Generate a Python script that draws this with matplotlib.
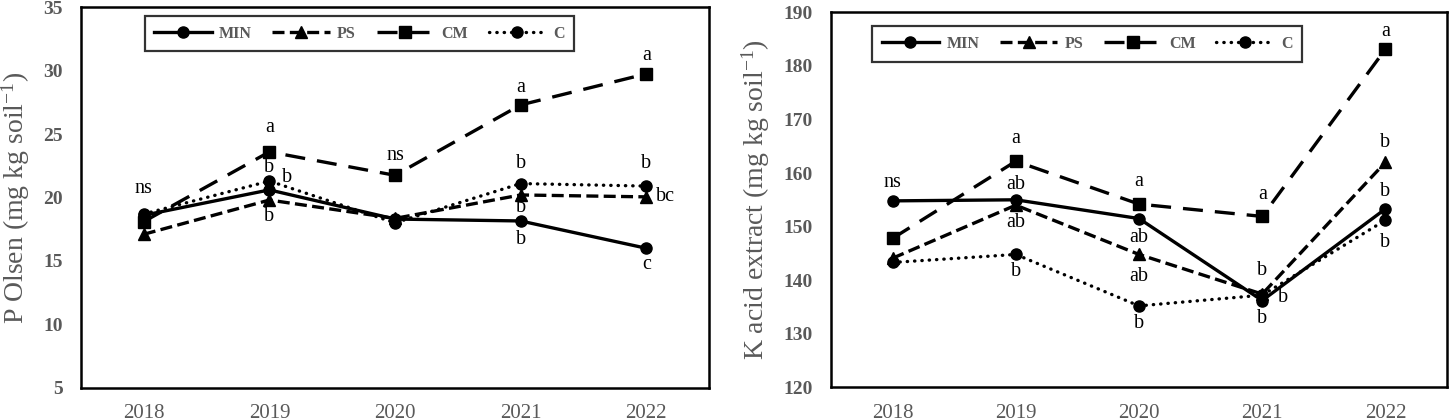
import matplotlib
matplotlib.use("Agg")
import matplotlib.pyplot as plt

plt.rcParams['font.family'] = ['Liberation Serif', 'DejaVu Serif']
plt.rcParams['mathtext.fontset'] = 'custom'
plt.rcParams['mathtext.rm'] = 'Liberation Serif'
plt.rcParams['mathtext.default'] = 'regular'

years = ['2018', '2019', '2020', '2021', '2022']
series_names = ['MIN', 'PS', 'CM', 'C']

# P Olsen (mg kg soil-1)
p_min = [18.6, 20.6, 18.3, 18.15, 16.0]
p_ps = [17.1, 19.8, 18.35, 20.2, 20.05]
p_cm = [18.1, 23.6, 21.75, 27.3, 29.75]
p_c = [18.7, 21.3, 18.0, 21.1, 20.9]

# K acid extract (mg kg soil-1)
k_min = [154.8, 155.0, 151.5, 136.2, 153.3]
k_ps = [144.1, 154.0, 144.8, 137.4, 162.0]
k_cm = [147.8, 162.2, 154.2, 151.9, 183.1]
k_c = [143.3, 144.8, 135.2, 137.2, 151.2]

# significance letters: (year index, y value, letter)
p_letters = [
    (0, 20.7, 'ns'),
    (1, 25.5, 'a'), (1, 22.4, 'b'), (1.14, 21.6, 'b'), (1, 18.5, 'b'),
    (2, 23.3, 'ns'),
    (3, 28.7, 'a'), (3, 22.7, 'b'), (3, 19.2, 'b'), (3, 16.7, 'b'),
    (4, 31.2, 'a'), (4, 22.7, 'b'), (4.15, 20.1, 'bc'), (4, 14.7, 'c'),
]
k_letters = [
    (0, 158.2, 'ns'),
    (1, 166.5, 'a'), (1, 157.9, 'ab'), (1, 150.7, 'ab'), (1, 141.7, 'b'),
    (2, 158.5, 'a'), (2, 148.0, 'ab'), (2, 140.6, 'ab'), (2, 132.0, 'b'),
    (3, 155.9, 'a'), (3, 141.8, 'b'), (3.17, 136.7, 'b'), (3, 132.9, 'b'),
    (4, 186.4, 'a'), (4, 165.7, 'b'), (4, 156.5, 'b'), (4, 147.0, 'b'),
]

gray = '#595959'
W, H = 1449, 419
fig = plt.figure(figsize=(W / 100, H / 100), dpi=100)

ax1 = fig.add_axes([81 / W, 1 - 387.7 / H, 628 / W, 380.4 / H])
ax2 = fig.add_axes([831 / W, 1 - 387.3 / H, 616 / W, 375 / H])

styles = [
    dict(linestyle='-', marker='o'),
    dict(linestyle=(0, (3.6, 1.6)), marker='^'),
    dict(linestyle=(0, (6.0, 3.6)), marker='s'),
    dict(linestyle=(0, (0.1, 2.1)), marker='o', dash_capstyle='round'),
]

def draw(ax, data, ylim, yticks, ylabel, letters, leg_anchor):
    x = list(range(len(years)))
    handles = []
    for name, vals, st in zip(series_names, data, styles):
        h, = ax.plot(x, vals, color='black', lw=2.4, markersize=8,
                     markerfacecolor='black', markeredgecolor='black',
                     label=name, **st)
        handles.append(h)
    for xi, yv, t in letters:
        ax.text(xi, yv, t, ha='center', va='center', fontsize=14.5, color='black')
    ax.set_xlim(-0.5, 4.5)
    ax.set_ylim(*ylim)
    ax.set_yticks(yticks)
    ax.set_xticks(x)
    ax.set_xticklabels(years)
    ax.tick_params(axis='both', length=0)
    ax.tick_params(axis='x', pad=12, labelsize=15, labelcolor=gray)
    ax.tick_params(axis='y', pad=13, labelsize=14, labelcolor=gray)
    for lab in ax.get_yticklabels():
        lab.set_fontweight('bold')
    for sp in ax.spines.values():
        sp.set_linewidth(1.8)
        sp.set_color('black')
    ax.set_ylabel(ylabel, fontsize=20, color=gray, labelpad=8)
    leg = ax.legend(handles=handles, loc='center', bbox_to_anchor=leg_anchor,
                    bbox_transform=fig.transFigure, ncol=4, frameon=True,
                    fancybox=False, edgecolor='black', handlelength=3.6,
                    handletextpad=0.45, columnspacing=1.3, borderpad=0.6,
                    borderaxespad=0,
                    prop={'family': 'Liberation Serif', 'weight': 'bold', 'size': 11.5})
    leg.get_frame().set_linewidth(1.6)
    for t in leg.get_texts():
        t.set_color(gray)

draw(ax1, [p_min, p_ps, p_cm, p_c], (5, 35), [5, 10, 15, 20, 25, 30, 35],
     'P Olsen (mg kg soil$^{-1}$)', p_letters, (359.5 / W, 1 - 33.5 / H))
draw(ax2, [k_min, k_ps, k_cm, k_c], (120, 190), [120, 130, 140, 150, 160, 170, 180, 190],
     'K acid extract (mg kg soil$^{-1}$)', k_letters, (1087 / W, 1 - 44 / H))

fig.savefig('out.png', dpi=100)
